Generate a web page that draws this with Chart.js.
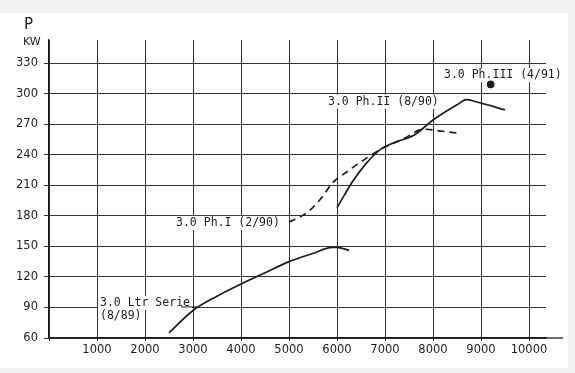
<!DOCTYPE html>
<html>
<head>
<meta charset="utf-8">
<script src="https://cdn.jsdelivr.net/npm/chart.js@4"></script>
<style>
  html, body { margin: 0; padding: 0; background: #f2f2f2; }
  #wrap { position: relative; width: 575px; height: 373px; }
  canvas { position: absolute; left: 0; top: 0; }
</style>
</head>
<body>
<div id="wrap"><canvas id="chart" width="575" height="373"></canvas></div>
<script>
// engine speed (rpm) and power (kW)
const serieRpm = [2500, 3000, 3500, 4000, 4500, 5000, 5500, 5900, 6000, 6250];
const serieKw  = [65, 87, 101, 113, 124, 135, 143, 149, 149, 146];

const ph1Rpm = [5000, 5200, 5450, 5700, 5900, 6200, 6500, 6900, 7400, 7800, 8200, 8550];
const ph1Kw  = [174, 178, 186, 199, 212, 223, 233, 245, 256, 265, 263, 261];

const ph2Rpm = [6000, 6150, 6300, 6600, 6900, 7200, 7600, 8000, 8500, 8700, 8900, 9500];
const ph2Kw  = [188, 200, 212, 231, 245, 252, 259, 274, 289, 294, 292, 284];

const ph3Rpm = [9200];
const ph3Kw  = [309];

const xTicks = [1000, 2000, 3000, 4000, 5000, 6000, 7000, 8000, 9000, 10000];
const yTicks = [60, 90, 120, 150, 180, 210, 240, 270, 300, 330];

const labels = [
    { text: '3.0 Ph.III (4/91)', x: 8229, y: 318 },
    { text: '3.0 Ph.II (8/90)', x: 5812, y: 292 },
    { text: '3.0 Ph.I (2/90)', x: 2646, y: 173 },
    { text: '3.0 Ltr Serie', x: 1062, y: 94.5 },
    { text: '(8/89)', x: 1062, y: 81.5 }
];

const toPoints = (xs, ys) => xs.map((x, i) => ({ x: x, y: ys[i] }));
const ink = '#1c1c1c';
const labelFont = '11.5px "DejaVu Sans Mono"';

const paper = {
    id: 'paper',
    beforeDraw(chart) {
        const ctx = chart.ctx;
        ctx.save();
        ctx.fillStyle = '#ffffff';
        ctx.fillRect(0, 13, 568, 355);
        ctx.restore();
    },
    beforeDatasetsDraw(chart) {
        // labels sit on white patches that hide the grid
        const ctx = chart.ctx;
        const xs = chart.scales.x, ys = chart.scales.y;
        ctx.save();
        ctx.font = labelFont;
        ctx.fillStyle = '#ffffff';
        labels.forEach(l => {
            const px = xs.getPixelForValue(l.x), py = ys.getPixelForValue(l.y);
            const w = ctx.measureText(l.text).width;
            ctx.fillRect(px - 2, py - 7, w + 4, 14);
        });
        ctx.restore();
    },
    afterDraw(chart) {
        const ctx = chart.ctx;
        const xs = chart.scales.x, ys = chart.scales.y;
        const area = chart.chartArea;
        ctx.save();
        // x axis runs on past the last grid line
        ctx.strokeStyle = ink;
        ctx.lineWidth = 1.3;
        ctx.beginPath();
        ctx.moveTo(area.right, area.bottom);
        ctx.lineTo(area.right + 17, area.bottom);
        ctx.stroke();

        ctx.textBaseline = 'middle';
        ctx.font = labelFont;
        ctx.fillStyle = ink;
        labels.forEach(l => {
            ctx.fillText(l.text, xs.getPixelForValue(l.x), ys.getPixelForValue(l.y));
        });
        // short leader from the series label to its curve
        ctx.lineWidth = 1;
        ctx.beginPath();
        ctx.moveTo(xs.getPixelForValue(2750), ys.getPixelForValue(90.5));
        ctx.lineTo(xs.getPixelForValue(3100), ys.getPixelForValue(90.5));
        ctx.stroke();

        ctx.font = '15px "DejaVu Sans"';
        ctx.fillText('P', 24, 25);
        ctx.font = '11px "DejaVu Sans"';
        ctx.fillText('KW', 23, 42);
        ctx.restore();
    }
};

new Chart(document.getElementById('chart').getContext('2d'), {
    type: 'line',
    data: {
        datasets: [
            { data: toPoints(serieRpm, serieKw), borderColor: ink, borderWidth: 1.7, pointRadius: 0, cubicInterpolationMode: 'monotone' },
            { data: toPoints(ph1Rpm, ph1Kw), borderColor: ink, borderWidth: 1.7, borderDash: [7, 5], pointRadius: 0, cubicInterpolationMode: 'monotone' },
            { data: toPoints(ph2Rpm, ph2Kw), borderColor: ink, borderWidth: 1.7, pointRadius: 0, cubicInterpolationMode: 'monotone' },
            { data: toPoints(ph3Rpm, ph3Kw), showLine: false, pointRadius: 3.5, pointBackgroundColor: ink, pointBorderColor: ink }
        ]
    },
    options: {
        responsive: false,
        animation: false,
        layout: { padding: { top: 40, right: 29, left: 0, bottom: 0 } },
        plugins: { legend: { display: false }, tooltip: { enabled: false } },
        scales: {
            x: {
                type: 'linear',
                min: 0,
                max: 10354,
                afterFit: s => { s.height = 35; },
                afterBuildTicks: s => { s.ticks = [0].concat(xTicks).map(v => ({ value: v })); },
                ticks: {
                    includeBounds: false,
                    maxRotation: 0,
                    autoSkip: false,
                    color: ink,
                    font: { family: 'DejaVu Sans', size: 11.5 },
                    padding: 2,
                    callback: v => v === 0 ? '' : String(v)
                },
                grid: { color: '#333', lineWidth: 1, tickLength: 3 },
                border: { color: ink, width: 1.3 }
            },
            y: {
                min: 60,
                max: 352.6,
                afterFit: s => { s.width = 49; },
                afterBuildTicks: s => { s.ticks = yTicks.map(v => ({ value: v })); },
                ticks: {
                    includeBounds: false,
                    autoSkip: false,
                    color: ink,
                    font: { family: 'DejaVu Sans', size: 11.5 },
                    padding: 6
                },
                grid: { color: '#333', lineWidth: 1, tickLength: 5 },
                border: { color: ink, width: 1.3 }
            }
        }
    },
    plugins: [paper]
});
</script>
</body>
</html>
